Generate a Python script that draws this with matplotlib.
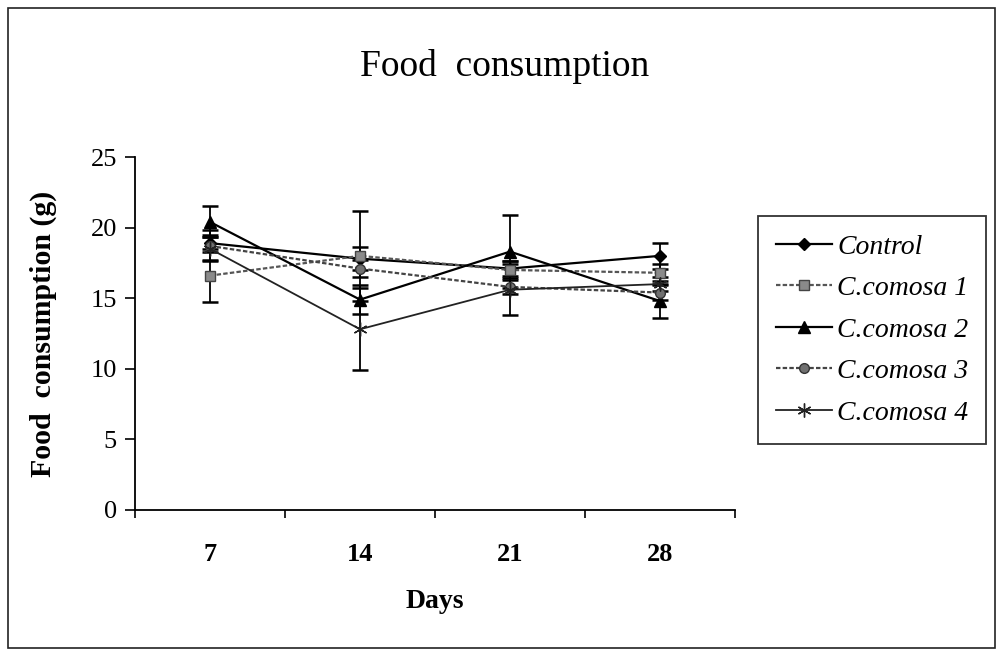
import matplotlib
matplotlib.use("Agg")
import matplotlib.pyplot as plt
from matplotlib.patches import Rectangle
from matplotlib.lines import Line2D

days = ["7", "14", "21", "28"]
series_names = ["Control", "C.comosa 1", "C.comosa 2", "C.comosa 3", "C.comosa 4"]
control = [18.9, 17.8, 17.1, 18.0]
control_err = [0.6, 0.8, 0.5, 0.9]
comosa1 = [16.6, 18.0, 17.0, 16.8]
comosa1_err = [1.9, 3.2, 0.6, 0.6]
comosa2 = [20.4, 14.9, 18.3, 14.8]
comosa2_err = [1.1, 1.0, 2.6, 1.2]
comosa3 = [18.7, 17.1, 15.8, 15.4]
comosa3_err = [1.1, 0.6, 0.5, 0.5]
comosa4 = [18.5, 12.8, 15.6, 16.0]
comosa4_err = [0.8, 2.9, 1.8, 0.5]

plt.rcParams['font.family'] = ['Liberation Serif', 'DejaVu Serif']

fig = plt.figure(figsize=(9.98, 6.54), dpi=100)
fig.patch.set_facecolor('white')
fig.add_artist(Rectangle((8/998, 6/654), 987/998, 640/654, transform=fig.transFigure,
                         fill=False, edgecolor='#222222', linewidth=1.2))

ax = fig.add_axes([135/998, 144/654, 600/998, 353/654])
xs = [1, 2, 3, 4]

styles = [
    (control, control_err, dict(marker='D', color='black', ls='-', lw=1.6, ms=6, mfc='black', mec='black')),
    (comosa1, comosa1_err, dict(marker='s', color='#555555', ls=(0, (2, 1)), lw=1.6, ms=7, mfc='#8a8a8a', mec='#444444')),
    (comosa2, comosa2_err, dict(marker='^', color='black', ls='-', lw=1.6, ms=8, mfc='black', mec='black')),
    (comosa3, comosa3_err, dict(marker='o', color='#444444', ls=(0, (2, 1)), lw=1.6, ms=7, mfc='#707070', mec='#333333')),
    (comosa4, comosa4_err, dict(marker=(6, 2, 0), color='#222222', ls='-', lw=1.3, ms=10, mfc='black', mec='#222222')),
]

handles = []
for (vals, errs, st), name in zip(styles, series_names):
    ax.errorbar(xs, vals, yerr=errs, ecolor='black', elinewidth=1.3, capsize=6, capthick=1.8,
                **st)
    handles.append(Line2D([], [], **st))

ax.set_xlim(0.5, 4.5)
ax.set_ylim(0, 25)
ax.set_yticks([0, 5, 10, 15, 20, 25])
ax.set_xticks([0.5, 1.5, 2.5, 3.5, 4.5])
ax.set_xticklabels([])
ax.set_xticks(xs, minor=True)
ax.set_xticklabels(days, minor=True, fontweight='bold')
ax.tick_params(axis='x', which='major', direction='out', length=6, width=1.2)
ax.tick_params(axis='x', which='minor', length=0, pad=24, labelsize=19)
ax.tick_params(axis='y', direction='out', length=7, width=1.2, labelsize=19, pad=6)
for s in ['top', 'right']:
    ax.spines[s].set_visible(False)
for s in ['left', 'bottom']:
    ax.spines[s].set_linewidth(1.3)

ax.set_ylabel("Food  consumption (g)", fontsize=21.5, fontweight='bold', labelpad=24)
ax.set_xlabel("Days", fontsize=20, fontweight='bold', labelpad=16)
fig.text(505/998, 1 - 66/654, "Food  consumption", ha='center', va='center', fontsize=27)

leg = fig.legend(handles, series_names, loc='upper left', bbox_to_anchor=(758/998, 1 - 216/654),
                 frameon=True, fancybox=False, edgecolor='black',
                 prop={'style': 'italic', 'size': 20}, handlelength=2.0, handletextpad=0.2,
                 labelspacing=0.58, borderpad=0.65, borderaxespad=0)
leg.get_frame().set_linewidth(1.3)

fig.savefig("out.png", dpi=100)
